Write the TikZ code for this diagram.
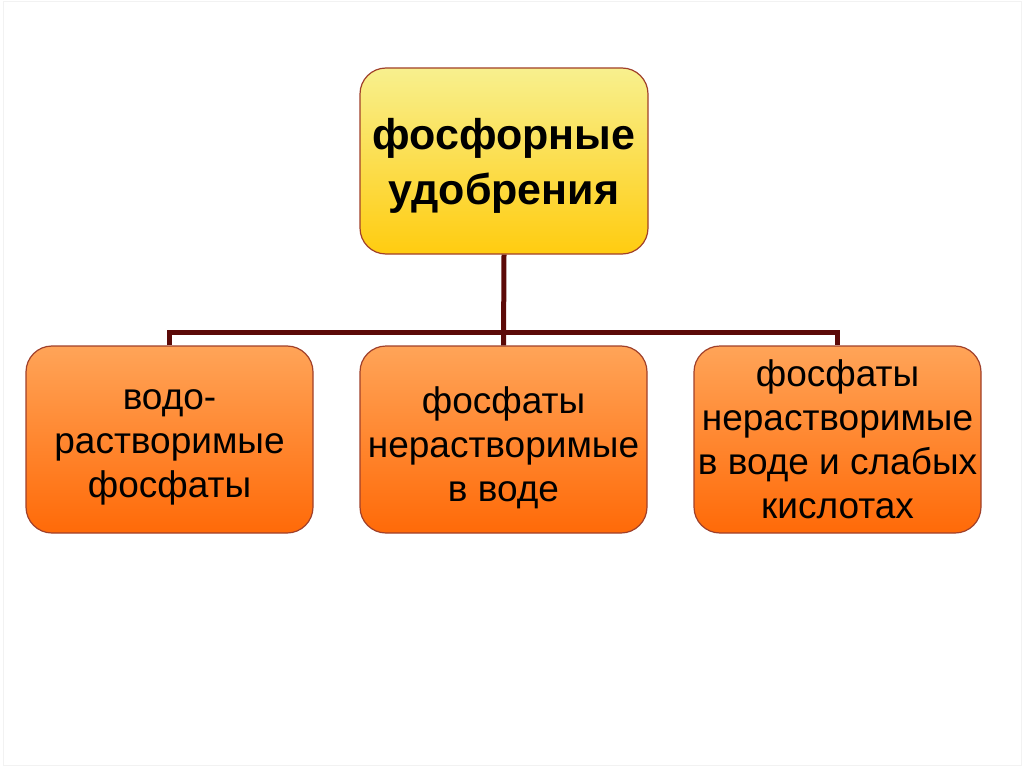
\documentclass[tikz,border=0pt]{standalone}
\usepackage{fontspec}
\setmainfont{Liberation Sans}
\definecolor{boxline}{HTML}{A0402A}
\definecolor{conncol}{HTML}{5C0A08}
\definecolor{ytop}{HTML}{F8F08E}
\definecolor{ybot}{HTML}{FFCC10}
\definecolor{otop}{HTML}{FFA458}
\definecolor{obot}{HTML}{FF6A08}
\tikzset{
  topbox/.style={draw=boxline, line width=1.2pt, rounded corners=26pt,
    top color=ytop, bottom color=ybot, minimum width=288pt, minimum height=186pt,
    inner sep=0pt},
  subbox/.style={draw=boxline, line width=1.2pt, rounded corners=26pt,
    top color=otop, bottom color=obot, minimum width=287pt, minimum height=187pt,
    inner sep=0pt},
  toptext/.style={align=center, inner sep=0pt, font=\fontsize{43}{55}\selectfont\bfseries},
  subtext/.style={align=center, inner sep=0pt, font=\fontsize{37}{44}\selectfont},
  conn/.style={draw=conncol, line width=5pt}
}
\begin{document}
\begin{tikzpicture}[x=1pt,y=-1pt]
\useasboundingbox (0,0) rectangle (1024,767);
\draw[gray!10, line width=1pt] (3,2) rectangle (1021,765);
\node[topbox] (top) at (504,161) {};
\node[subbox] (left) at (169.5,439.5) {};
\node[subbox] (mid) at (503.5,439.5) {};
\node[subbox] (right) at (837.5,439.5) {};
\node[toptext] (topT) at ([yshift=-5pt]top.center) {фосфорные\\удобрения};
\node[subtext] (leftT) at ([yshift=-8pt]left.center) {водо-\\растворимые\\фосфаты};
\node[subtext] (midT) at ([yshift=-8pt]mid.center) {фосфаты\\нерастворимые\\в воде};
\node[subtext] (rightT) at (right.center) {фосфаты\\нерастворимые\\в воде и слабых\\кислотах};
\draw[conn] (top.south) -- (mid.north);
\draw[conn] (left.north) -- ++(0,-13) -| (right.north);
\end{tikzpicture}
\end{document}
